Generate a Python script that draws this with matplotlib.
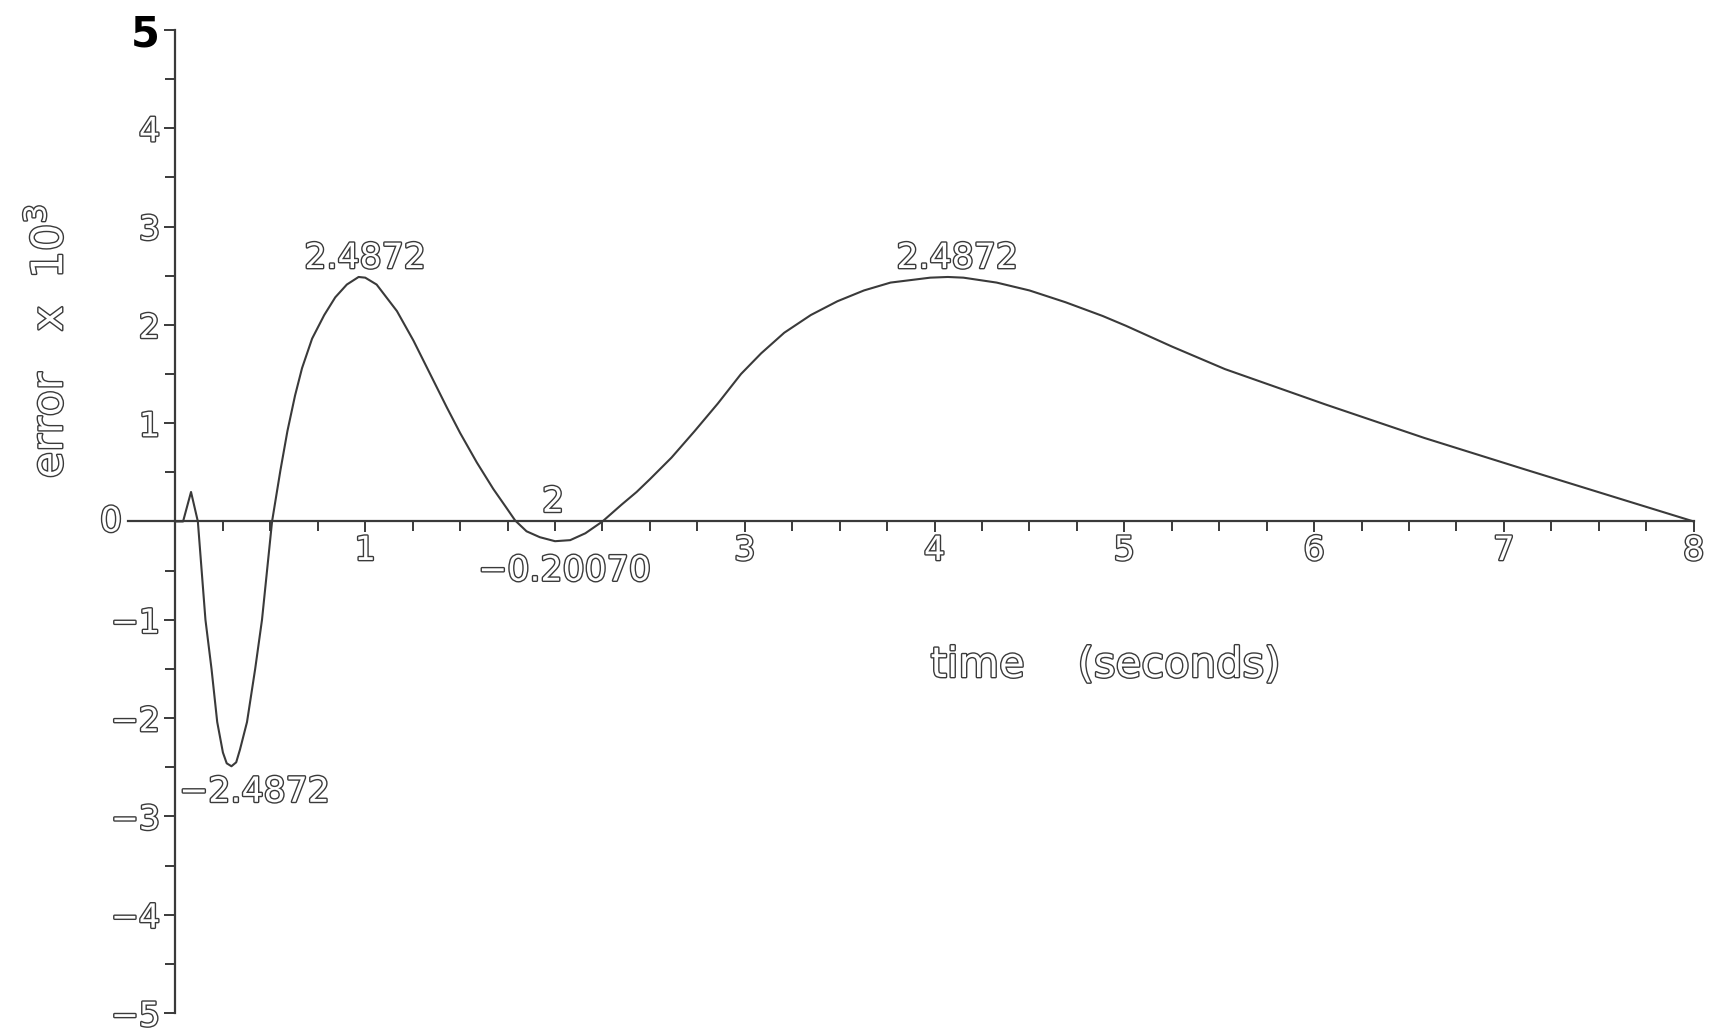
import matplotlib.pyplot as plt
import matplotlib.patheffects as pe
import numpy as np

# error curve (time in s, error x 10^3)
t = [0.0, 0.04, 0.082, 0.118, 0.158, 0.19, 0.22, 0.25, 0.27, 0.295, 0.32, 0.34, 0.377, 0.42,
     0.456, 0.509, 0.553, 0.59, 0.63, 0.667, 0.72, 0.784, 0.842, 0.903, 0.965, 1.0, 1.06,
     1.167, 1.254, 1.342, 1.43, 1.5, 1.588, 1.675, 1.74, 1.79, 1.85, 1.92, 2.0, 2.08, 2.16,
     2.25, 2.35, 2.43, 2.5, 2.614, 2.736, 2.858, 2.98, 3.086, 3.208, 3.348, 3.488, 3.628,
     3.768, 3.977, 4.07, 4.152, 4.327, 4.5, 4.69, 4.886, 5.009, 5.25, 5.53, 6.06, 6.58, 7.11,
     7.63, 8.0]
err = [0.0, 0.0, 0.30, 0.0, -1.0, -1.5, -2.04, -2.35, -2.46, -2.49, -2.45, -2.32, -2.04, -1.5,
       -1.0, 0.0, 0.52, 0.92, 1.28, 1.56, 1.86, 2.1, 2.28, 2.41, 2.487, 2.48, 2.41,
       2.14, 1.84, 1.5, 1.16, 0.9, 0.6, 0.33, 0.15, 0.01, -0.1, -0.16, -0.2007, -0.19, -0.12,
       0.0, 0.17, 0.3, 0.43, 0.65, 0.92, 1.2, 1.5, 1.71, 1.92, 2.1, 2.24, 2.35,
       2.43, 2.48, 2.487, 2.48, 2.43, 2.35, 2.23, 2.09, 1.99, 1.78, 1.55, 1.19, 0.85, 0.53,
       0.22, 0.0]

y_ticks = [-5, -4, -3, -2, -1, 1, 2, 3, 4, 5]
y_labels = ['−5', '−4', '−3', '−2', '−1', '1', '2', '3', '4', '5']
x_ticks = [1, 3, 4, 5, 6, 7, 8]
x_labels = ['1', '3', '4', '5', '6', '7', '8']

ink = '#3a3a3a'
hollow = [pe.withStroke(linewidth=2.0, foreground=ink)]

fig = plt.figure(figsize=(17.3, 10.32), dpi=100)
ax = fig.add_axes([0.074, 0.0184, 0.905, 0.9526])
ax.set_xlim(-0.25, 8.0)
ax.set_ylim(-5, 5)

ax.plot(t, err, color=ink, lw=1.5)

for s in ['top', 'right']:
    ax.spines[s].set_visible(False)
ax.spines['left'].set_position(('data', 0))
ax.spines['bottom'].set_position(('data', 0))
ax.spines['left'].set_color(ink)
ax.spines['bottom'].set_color(ink)
ax.spines['left'].set_linewidth(1.6)
ax.spines['bottom'].set_linewidth(1.6)

ax.set_yticks(y_ticks)
ax.set_yticklabels(y_labels)
ax.set_yticks(np.arange(-4.5, 5, 1.0), minor=True)
ax.set_xticks(x_ticks)
ax.set_xticklabels(x_labels)
ax.set_xticks(np.arange(0.25, 8, 0.25), minor=True)
ax.tick_params(which='both', direction='out', color=ink, width=1.4)
ax.tick_params(which='major', length=8, labelsize=24, labelcolor='white')
ax.tick_params(axis='y', which='major', pad=3)
ax.tick_params(axis='x', which='major', pad=1)
ax.tick_params(which='minor', length=7)
for lab in ax.get_xticklabels() + ax.get_yticklabels():
    lab.set_path_effects(hollow)
top = ax.get_yticklabels()[-1]
top.set_fontweight('bold')
top.set_fontsize(30)
top.set_color('black')
top.set_path_effects([])

txt = dict(fontsize=25, color='white', path_effects=hollow)
ax.text(-0.34, 0, '0', ha='center', va='center', **txt)
ax.text(1.99, 0.2, '2', ha='center', va='center', **txt)
ax.text(1.0, 2.68, '2.4872', ha='center', va='center', **txt)
ax.text(4.12, 2.68, '2.4872', ha='center', va='center', **txt)
ax.text(2.05, -0.5, '−0.20070', ha='center', va='center', **txt)
ax.text(0.02, -2.75, '−2.4872', ha='left', va='center', **txt)
ax.text(4.9, -1.46, 'time    (seconds)', ha='center', va='center',
        fontsize=30, color='white', path_effects=hollow)
fig.text(0.029, 0.669, 'error   x  10$^3$', rotation=90, ha='center', va='center',
         fontsize=31, color='white', path_effects=hollow)

fig.savefig('out.png', dpi=100, facecolor='white')
